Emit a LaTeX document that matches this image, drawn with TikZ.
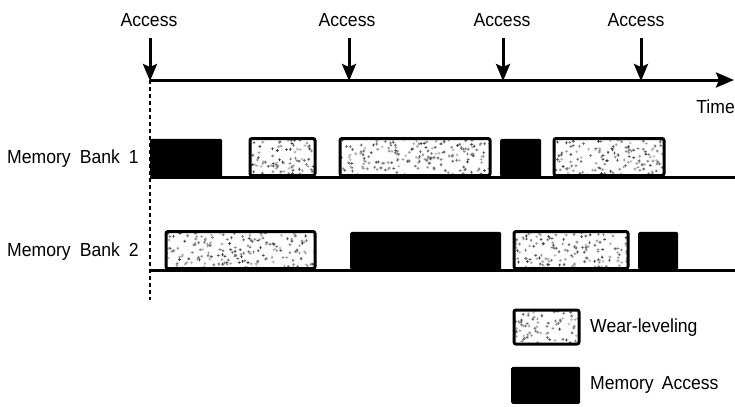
\documentclass[tikz,border=0pt]{standalone}
\usepackage{fontspec}
\setmainfont{Liberation Sans}[FakeStretch=0.93]
\usetikzlibrary{arrows.meta,calc}
\begin{document}
\begin{tikzpicture}[x=1bp,y=-1bp,
  lbl/.style={font=\fontsize{19}{22}\selectfont, inner sep=0pt},
  axis/.style={line width=3bp},
  tick/.style={line width=3bp, -{Stealth[width=14bp,length=17bp,inset=3bp]}},
  memacc/.style={fill=black, draw=none, rounded corners=1.5bp, inner sep=0pt, anchor=south west},
  wearlev/.style={draw=black, line width=3bp, fill=white, rounded corners=2bp,
    inner sep=0pt, anchor=south west, stipple=#1},
  stipple/.style={path picture={
    \path (path picture bounding box.south west) coordinate (pA)
          (path picture bounding box.north east) coordinate (pB);
    \foreach \k in {1,...,#1}{
      \pgfmathsetmacro\dotgray{int(30+50*rnd)}
      \fill[black!\dotgray] let \p1=(pA), \p2=(pB) in
        ({\x1+rnd*(\x2-\x1)},{\y1+rnd*(\y2-\y1)}) rectangle ++(0.8bp,-0.8bp);
    }}},
]
\pgfmathsetseed{7}
\useasboundingbox (0,0) rectangle (735,406);

% time axis
\coordinate (t0) at (150,80);
\coordinate (tend) at (734,80);
\draw[axis, -{Stealth[width=15bp,length=18bp,inset=3bp]}] (t0) -- (tend);
\node[lbl, anchor=east] (time) at (735,107) {Time};

% access events
\foreach \n/\xx/\lx in {1/150/149, 2/349/347, 3/503/502, 4/641/636}{
  \node[lbl] (acc\n) at (\lx,20) {Access};
  \coordinate (src\n) at (\xx,38);
  \coordinate (hit\n) at (\xx,81);
  \draw[tick] (src\n) -- (hit\n);
}

% start marker
\coordinate (dend) at (150,300);
\draw[line width=2bp, dash pattern=on 4bp off 3bp] (t0) -- (dend);

% memory bank 1
\node[lbl, anchor=west] (bank1) at (7,159) {Memory\hspace{9bp}Bank\hspace{9bp}1};
\coordinate (b1s) at (150,177);
\coordinate (b1e) at (735,177);
\node[memacc, minimum width=72bp, minimum height=38bp] (b1m1) at (150,177) {};
\node[wearlev=85, minimum width=65bp, minimum height=37bp] (b1w1) at (248.5,177) {};
\node[wearlev=195, minimum width=150bp, minimum height=37bp] (b1w2) at (338.5,177) {};
\node[memacc, minimum width=41bp, minimum height=38bp] (b1m2) at (500,177) {};
\node[wearlev=145, minimum width=110bp, minimum height=37bp] (b1w3) at (552.5,177) {};
\draw[axis] (b1s) -- (b1e);

% memory bank 2
\node[lbl, anchor=west] (bank2) at (7,252) {Memory\hspace{9bp}Bank\hspace{9bp}2};
\coordinate (b2s) at (150,270);
\coordinate (b2e) at (735,270);
\node[wearlev=195, minimum width=149bp, minimum height=37bp] (b2w1) at (164.5,270) {};
\node[memacc, minimum width=151bp, minimum height=38bp] (b2m1) at (350,270) {};
\node[wearlev=150, minimum width=114bp, minimum height=37bp] (b2w2) at (512.5,270) {};
\node[memacc, minimum width=40bp, minimum height=38bp] (b2m2) at (638,270) {};
\draw[axis] (b2s) -- (b2e);

% legend
\node[wearlev=80, minimum width=65bp, minimum height=34bp] (lgw) at (512.5,345.5) {};
\node[lbl, anchor=west] (lgwt) at (590,328) {Wear-leveling};
\node[memacc, minimum width=69bp, minimum height=37bp] (lgm) at (511,404) {};
\node[lbl, anchor=west] (lgmt) at (590,385) {Memory\hspace{8bp}Access};
\end{tikzpicture}
\end{document}
